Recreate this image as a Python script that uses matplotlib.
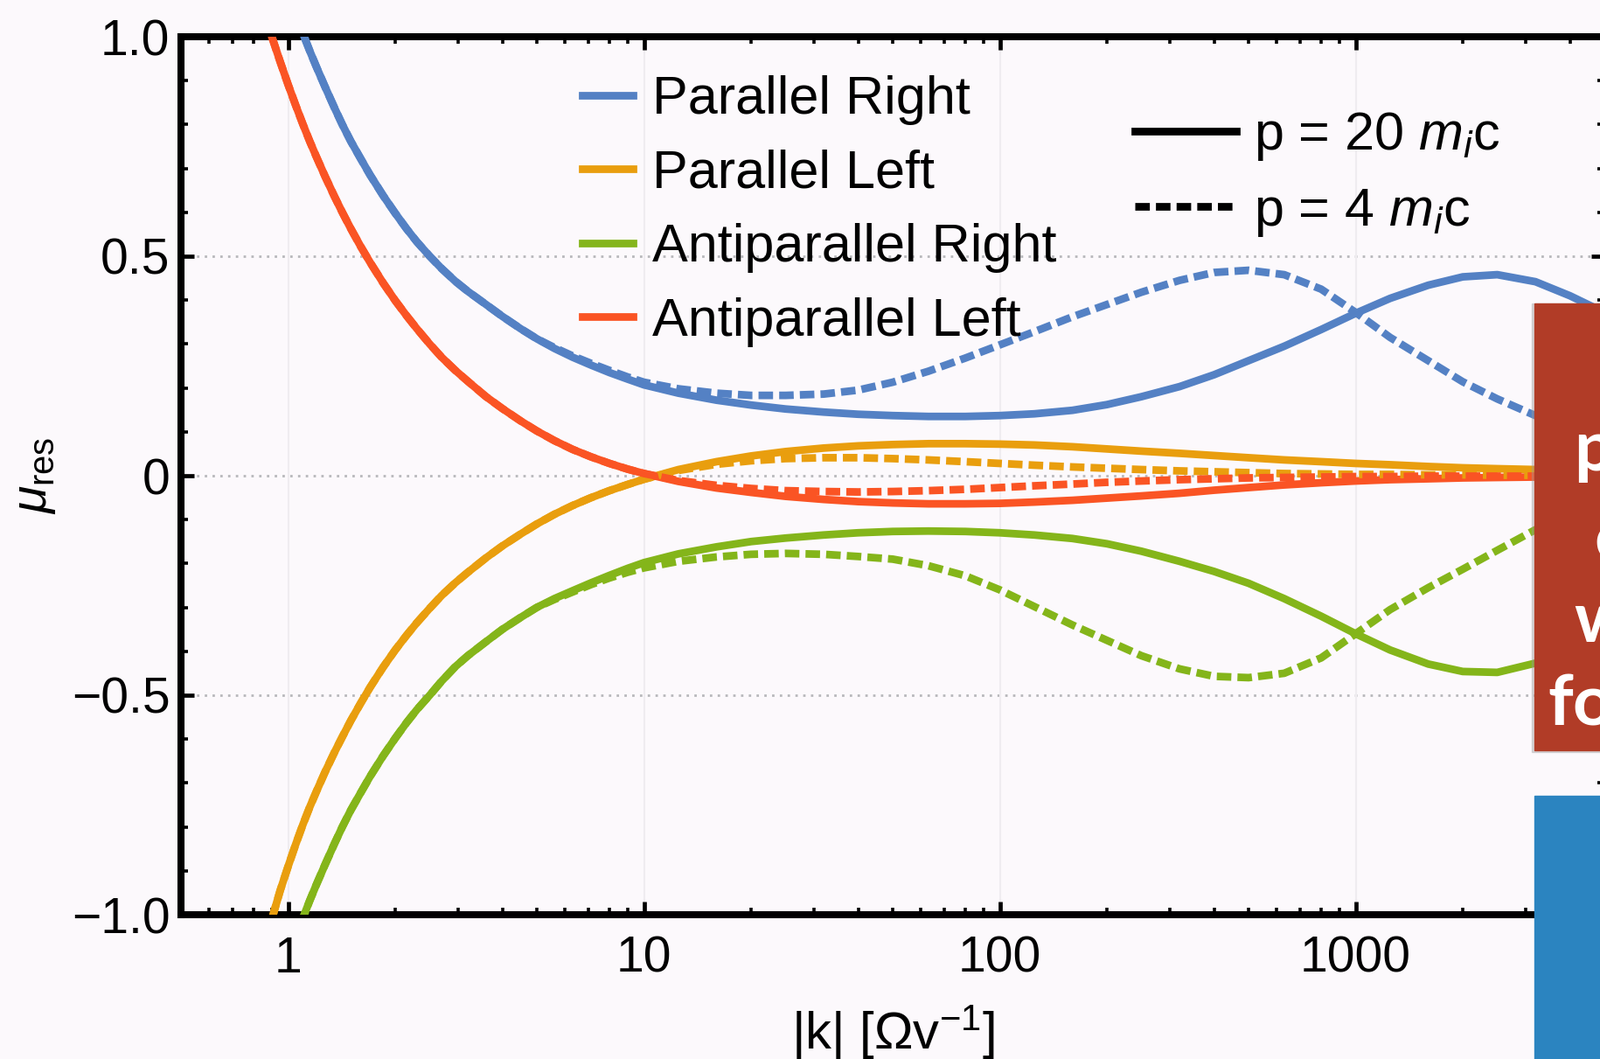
import numpy as np
import matplotlib.pyplot as plt
from matplotlib.lines import Line2D
from matplotlib.patches import Rectangle
from matplotlib.ticker import MultipleLocator, LogLocator, NullFormatter

plt.rcParams['font.family'] = ['Liberation Sans', 'DejaVu Sans']
plt.rcParams['mathtext.fontset'] = 'custom'
plt.rcParams['mathtext.rm'] = 'Liberation Sans'
plt.rcParams['mathtext.it'] = 'Liberation Sans:italic'

# |k| grid
k = [0.9, 0.95, 1.0, 1.05, 1.1, 1.15, 1.2, 1.27, 1.35, 1.42, 1.5, 1.6, 1.7, 1.85, 2.0,
     2.15, 2.3, 2.5, 2.7, 2.95, 3.2, 3.6, 4.0, 4.5, 5.0, 5.6, 6.3, 7.1, 8.0, 9.0, 10,
     12.5, 16, 20, 25, 32, 40, 50, 63, 80, 100, 125, 160, 200, 250, 320, 400, 500,
     630, 800, 1000, 1250, 1600, 2000, 2500, 3200, 4000, 5000]

# p = 20 m_i c (solid)
par_right_20 = [1.25, 1.18, 1.11, 1.05, 1.008, 0.968, 0.932, 0.886, 0.838, 0.80, 0.762,
                0.722, 0.685, 0.638, 0.598, 0.563, 0.533, 0.50, 0.472, 0.443, 0.42, 0.39,
                0.363, 0.335, 0.312, 0.29, 0.27, 0.252, 0.235, 0.22, 0.207,
                0.188, 0.172, 0.161, 0.152, 0.145, 0.14, 0.137, 0.135, 0.135, 0.137, 0.141,
                0.149, 0.162, 0.18, 0.203, 0.23, 0.262, 0.295, 0.333, 0.37, 0.404, 0.434,
                0.453, 0.458, 0.442, 0.41, 0.372]
par_left_20 = [-1.01, -0.945, -0.89, -0.84, -0.795, -0.755, -0.72, -0.675, -0.63, -0.595,
               -0.558, -0.518, -0.482, -0.436, -0.397, -0.364, -0.335, -0.302, -0.273,
               -0.244, -0.22, -0.187, -0.16, -0.133, -0.11, -0.088, -0.068, -0.05, -0.034,
               -0.02, -0.008,
               0.014, 0.032, 0.045, 0.055, 0.063, 0.068, 0.071, 0.073, 0.073, 0.072, 0.07,
               0.066, 0.061, 0.056, 0.051, 0.046, 0.041, 0.036, 0.032, 0.028, 0.025, 0.021,
               0.018, 0.016, 0.014, 0.012, 0.011]
anti_right_20 = [-1.25, -1.18, -1.11, -1.05, -1.008, -0.968, -0.932, -0.886, -0.838, -0.80,
                 -0.762, -0.722, -0.685, -0.638, -0.598, -0.563, -0.533, -0.50, -0.468,
                 -0.435, -0.41, -0.378, -0.35, -0.323, -0.30, -0.28, -0.262, -0.244, -0.227,
                 -0.211, -0.198,
                 -0.178, -0.162, -0.15, -0.142, -0.135, -0.13, -0.127, -0.126, -0.127, -0.13,
                 -0.135, -0.143, -0.155, -0.172, -0.195, -0.218, -0.245, -0.28, -0.32, -0.36,
                 -0.397, -0.429, -0.446, -0.448, -0.427, -0.392, -0.357]
anti_left_20 = [1.0, 0.943, 0.891, 0.844, 0.801, 0.762, 0.727, 0.682, 0.636, 0.60, 0.563,
                0.522, 0.486, 0.439, 0.399, 0.365, 0.335, 0.30, 0.27, 0.24, 0.215, 0.18,
                0.153, 0.125, 0.102, 0.08, 0.06, 0.043, 0.028, 0.015, 0.005,
                -0.013, -0.028, -0.038, -0.047, -0.054, -0.059, -0.062, -0.064, -0.064,
                -0.063, -0.06, -0.056, -0.051, -0.046, -0.04, -0.033, -0.027, -0.021, -0.016,
                -0.012, -0.009, -0.007, -0.005, -0.004, -0.003, -0.002, -0.002]

# p = 4 m_i c (dashed)
par_right_4 = [1.25, 1.18, 1.11, 1.05, 1.008, 0.968, 0.932, 0.886, 0.838, 0.80, 0.762,
               0.722, 0.685, 0.638, 0.598, 0.563, 0.533, 0.50, 0.472, 0.443, 0.42, 0.39,
               0.363, 0.335, 0.312, 0.292, 0.273, 0.256, 0.24, 0.225, 0.213,
               0.198, 0.188, 0.183, 0.183, 0.186, 0.195, 0.213, 0.238, 0.268, 0.298, 0.328,
               0.362, 0.39, 0.418, 0.445, 0.463, 0.468, 0.458, 0.425, 0.372, 0.315, 0.262,
               0.214, 0.175, 0.137, 0.106, 0.08]
par_left_4 = [-1.01, -0.945, -0.89, -0.84, -0.795, -0.755, -0.72, -0.675, -0.63, -0.595,
              -0.558, -0.518, -0.482, -0.436, -0.397, -0.364, -0.335, -0.302, -0.273,
              -0.244, -0.22, -0.187, -0.16, -0.133, -0.11, -0.088, -0.068, -0.05, -0.034,
              -0.02, -0.008,
              0.012, 0.026, 0.034, 0.039, 0.041, 0.041, 0.039, 0.036, 0.032, 0.028, 0.024,
              0.02, 0.017, 0.014, 0.011, 0.009, 0.007, 0.005, 0.004, 0.003, 0.003, 0.002,
              0.002, 0.001, 0.001, 0.001, 0.001]
anti_right_4 = [-1.25, -1.18, -1.11, -1.05, -1.008, -0.968, -0.932, -0.886, -0.838, -0.80,
                -0.762, -0.722, -0.685, -0.638, -0.598, -0.563, -0.533, -0.50, -0.468,
                -0.435, -0.41, -0.378, -0.35, -0.323, -0.30, -0.282, -0.265, -0.248, -0.233,
                -0.22, -0.21,
                -0.195, -0.185, -0.179, -0.177, -0.179, -0.184, -0.19, -0.205, -0.228,
                -0.26, -0.298, -0.34, -0.375, -0.41, -0.44, -0.457, -0.46, -0.45, -0.415,
                -0.36, -0.305, -0.255, -0.213, -0.17, -0.123, -0.091, -0.066]
anti_left_4 = [1.0, 0.943, 0.891, 0.844, 0.801, 0.762, 0.727, 0.682, 0.636, 0.60, 0.563,
               0.522, 0.486, 0.439, 0.399, 0.365, 0.335, 0.30, 0.27, 0.24, 0.215, 0.18,
               0.153, 0.125, 0.102, 0.08, 0.06, 0.043, 0.028, 0.015, 0.005,
               -0.011, -0.022, -0.029, -0.034, -0.036, -0.037, -0.036, -0.034, -0.031,
               -0.027, -0.023, -0.019, -0.015, -0.012, -0.009, -0.007, -0.005, -0.004,
               -0.003, -0.002, -0.002, -0.001, -0.001, -0.001, -0.001, 0.0, 0.0]

names = ['Parallel Right', 'Parallel Left', 'Antiparallel Right', 'Antiparallel Left']
colors = ['#5481c4', '#e99e0e', '#84b51a', '#fa5424']
solid = [par_right_20, par_left_20, anti_right_20, anti_left_20]
dashed = [par_right_4, par_left_4, anti_right_4, anti_left_4]

xticks = [1, 10, 100, 1000]
xtick_labels = ['1', '10', '100', '1000']
yticks = [-1.0, -0.5, 0.0, 0.5, 1.0]
ytick_labels = ['\u22121.0', '\u22120.5', '0', '0.5', '1.0']

W, H = 1831, 1211
bg = '#fcf9fc'
fig = plt.figure(figsize=(W / 100, H / 100), dpi=100)
fig.patch.set_facecolor(bg)
ax = fig.add_axes([207 / W, (H - 1046) / H, (1835 - 207) / W, (1046 - 42) / H])
ax.set_facecolor(bg)

lw = 6.3
for ys, c in zip(solid, colors):
    ax.plot(k, ys, color=c, lw=lw, solid_joinstyle='round', zorder=3)
for ys, c in zip(dashed, colors):
    ax.plot(k, ys, color=c, lw=lw, dashes=(1.9, 0.8), zorder=4)

ax.set_xscale('log')
ax.set_xlim(0.5, 5000)
ax.set_ylim(-1, 1)

for y in [-0.5, 0, 0.5]:
    ax.axhline(y, color='#b8b8bc', lw=2, ls=(0, (1, 2.2)), zorder=1)
for x in xticks:
    ax.axvline(x, color='#efecf0', lw=1.5, zorder=1)

ax.set_xticks(xticks, xtick_labels)
ax.set_yticks(yticks, ytick_labels)
ax.xaxis.set_minor_locator(LogLocator(base=10, subs=np.arange(2, 10)))
ax.xaxis.set_minor_formatter(NullFormatter())
ax.yaxis.set_minor_locator(MultipleLocator(0.1))
ax.tick_params(which='both', direction='in', top=True, right=True, labelsize=41)
ax.tick_params(which='major', length=11, width=3.4)
ax.tick_params(which='minor', length=6, width=2.6)
ax.tick_params(axis='x', pad=17)
ax.tick_params(axis='y', pad=9)
for s in ax.spines.values():
    s.set_linewidth(5.8)

ax.set_xlabel(r'|k| [$\Omega$v$^{-1}$]', fontsize=43)
ax.xaxis.set_label_coords(0.5, -0.134)
ax.xaxis.label.set_va('center')
ax.set_ylabel(r'$\mu_{\mathrm{res}}$', fontsize=41)
ax.yaxis.set_label_coords(-0.103, 0.5)
ax.yaxis.label.set_va('center')

h1 = [Line2D([], [], color=c, lw=lw) for c in colors]
leg1 = ax.legend(h1, names, loc='upper left', bbox_to_anchor=(0.282, 0.956),
                 frameon=False, fontsize=44, handlelength=0.95, handletextpad=0.36,
                 labelspacing=0.45, borderpad=0, borderaxespad=0)
ax.add_artist(leg1)
h2 = [Line2D([], [], color='black', lw=lw),
      Line2D([], [], color='black', lw=lw, dashes=(1.9, 0.8))]
ax.legend(h2, [r'p = 20 $m_i$c', r'p = 4 $m_i$c'], loc='upper left',
          bbox_to_anchor=(0.670, 0.916), frameon=False, fontsize=44,
          handlelength=1.9, handletextpad=0.33, labelspacing=0.45,
          borderpad=0, borderaxespad=0)

# slide boxes covering the right edge
fig.add_artist(Rectangle((1752 / W, (H - 860) / H), 0.1, (860 - 347) / H,
                         transform=fig.transFigure, color='#9a9a9a', alpha=0.35, zorder=10))
fig.add_artist(Rectangle((1755 / W, (H - 858) / H), 0.1, (858 - 347) / H,
                         transform=fig.transFigure, color='#b13c27', zorder=11))
fig.add_artist(Rectangle((1755 / W, 0), 0.1, (H - 910) / H,
                         transform=fig.transFigure, color='#2b84c0', zorder=11))
box_text = [('p', 1800, 538), ('e', 1823, 642), ('w', 1800, 734), ('fo', 1770, 830)]
for t, x, y in box_text:
    fig.text(x / W, (H - y) / H, t, color='white', fontsize=58, family='Lato',
             weight='bold', va='baseline', ha='left', zorder=12)

fig.savefig('out.png', dpi=100, facecolor=bg)
